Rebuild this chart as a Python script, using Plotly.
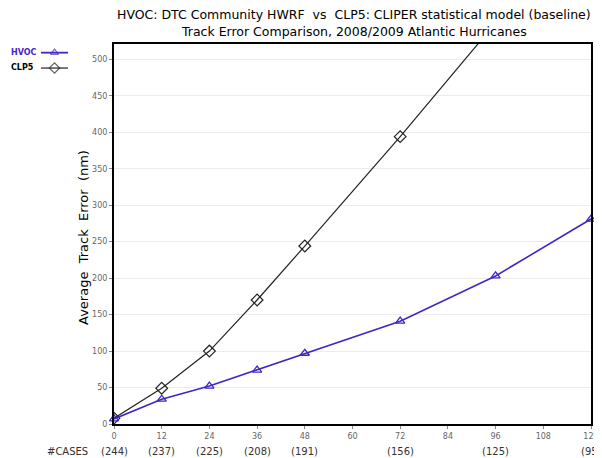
import plotly.graph_objects as go

# ---- data ----
lead_hours = [0, 12, 24, 36, 48, 72, 96, 120]
hvoc_err = [7, 34, 52, 74, 97, 141, 203, 281]
clp5_hours = [0, 12, 24, 36, 48, 72, 96]
clp5_err = [8, 49, 100, 170, 244, 394, 550]
cases = ["(244)", "(237)", "(225)", "(208)", "(191)", "(156)", "(125)", "(95)"]
x_ticks = [0, 12, 24, 36, 48, 60, 72, 84, 96, 108, 120]
y_ticks = [0, 50, 100, 150, 200, 250, 300, 350, 400, 450, 500]

# page body has an 8px default margin: the figure is drawn from (8, 8)
OFF = 8
W, H = 602 - OFF, 458 - OFF
BLUE = "#4226c8"
FONT = "DejaVu Sans"


def px_x(p):
    return (p - OFF) / W


def px_y(p):
    return 1 - (p - OFF) / H


fig = go.Figure()

fig.add_trace(go.Scatter(
    x=clp5_hours, y=clp5_err, mode="lines+markers", name="CLP5",
    line=dict(color="#222222", width=1.2),
    marker=dict(symbol="diamond-open", size=9, color="#222222", line=dict(width=1.2)),
    cliponaxis=True, showlegend=False))
fig.add_trace(go.Scatter(
    x=lead_hours, y=hvoc_err, mode="lines+markers", name="HVOC",
    line=dict(color=BLUE, width=1.6),
    marker=dict(symbol="triangle-up-open", size=8, color=BLUE, line=dict(width=1.3)),
    cliponaxis=False, showlegend=False))

# legend samples (custom, text before symbol as in reference)
fig.add_trace(go.Scatter(
    x=[0, 1, 2], y=[0.77, 0.77, 0.77], xaxis="x2", yaxis="y2", mode="lines+markers",
    line=dict(color=BLUE, width=1.8),
    marker=dict(symbol="triangle-up-open", size=[0, 7, 0], color=BLUE, line=dict(width=1.3)),
    showlegend=False, hoverinfo="skip"))
fig.add_trace(go.Scatter(
    x=[0, 1, 2], y=[0.24, 0.24, 0.24], xaxis="x2", yaxis="y2", mode="lines+markers",
    line=dict(color="#222222", width=1.2),
    marker=dict(symbol="diamond-open", size=[0, 8, 0], color="#222222", line=dict(width=1.2)),
    showlegend=False, hoverinfo="skip"))

annotations = [
    dict(text="HVOC: DTC Community HWRF&nbsp;&nbsp;vs&nbsp;&nbsp;CLP5: CLIPER statistical model (baseline)",
         x=px_x(354), y=px_y(15), xref="paper", yref="paper", showarrow=False,
         xanchor="center", yanchor="middle", font=dict(family=FONT, size=12.5, color="black")),
    dict(text="Track Error Comparison, 2008/2009 Atlantic Hurricanes",
         x=px_x(354), y=px_y(31), xref="paper", yref="paper", showarrow=False,
         xanchor="center", yanchor="middle", font=dict(family=FONT, size=12.5, color="black")),
    dict(text="Average&nbsp; Track&nbsp; Error&nbsp; (nm)", textangle=-90,
         x=px_x(84), y=px_y(238), xref="paper", yref="paper", showarrow=False,
         xanchor="center", yanchor="middle", font=dict(family=FONT, size=13, color="black")),
    dict(text="<b>HVOC</b>", x=px_x(9), y=px_y(53), xref="paper", yref="paper", showarrow=False,
         xanchor="left", yanchor="middle", font=dict(family=FONT, size=8, color=BLUE)),
    dict(text="<b>CLP5</b>", x=px_x(9), y=px_y(68), xref="paper", yref="paper", showarrow=False,
         xanchor="left", yanchor="middle", font=dict(family=FONT, size=8, color="black")),
    dict(text="#CASES", x=px_x(90), y=px_y(451), xref="paper", yref="paper", showarrow=False,
         xanchor="right", yanchor="middle", font=dict(family=FONT, size=10, color="#333333")),
]
for h, c in zip(lead_hours, cases):
    annotations.append(dict(text=c, x=h, y=px_y(451), xref="x", yref="paper", showarrow=False,
                            xanchor="center", yanchor="middle",
                            font=dict(family=FONT, size=10, color="#333333")))

fig.update_layout(
    width=W, height=H,
    margin=dict(l=0, r=0, t=0, b=0),
    paper_bgcolor="white", plot_bgcolor="white",
    showlegend=False,
    annotations=annotations,
    xaxis=dict(domain=[px_x(114), px_x(591)], range=[0, 120], tickvals=x_ticks,
               ticktext=[str(v) for v in x_ticks],
               showgrid=False, zeroline=False, showline=True, linewidth=2, linecolor="black",
               mirror=True, ticks="outside", ticklen=3, tickcolor="#888888",
               tickfont=dict(family=FONT, size=8, color="#666666"), automargin=False),
    yaxis=dict(domain=[px_y(424), px_y(44)], range=[0, 521], tickvals=y_ticks,
               showgrid=True, gridcolor="#ececec", gridwidth=1, zeroline=False,
               showline=True, linewidth=2, linecolor="black", mirror=True,
               ticks="outside", ticklen=3, tickcolor="#888888",
               tickfont=dict(family=FONT, size=8, color="#666666"), automargin=False),
    xaxis2=dict(domain=[px_x(41), px_x(68)], range=[0, 2], visible=False, anchor="y2",
                fixedrange=True),
    yaxis2=dict(domain=[px_y(75), px_y(46)], range=[0, 1], visible=False, anchor="x2",
                fixedrange=True),
)

fig.write_html("out.html")
